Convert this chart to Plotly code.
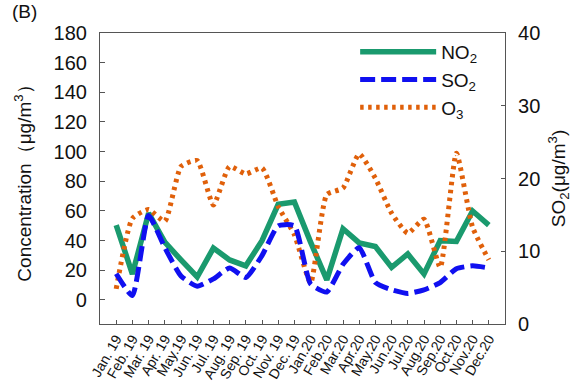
import plotly.graph_objects as go

months = ["Jan. 19", "Feb. 19", "Mar. 19", "Apr. 19", "May.19", "Jun. 19", "Jul. 19", "Aug. 19",
          "Sep. 19", "Oct. 19", "Nov. 19", "Dec. 19", "Jan.20", "Feb.20", "Mar.20", "Apr.20",
          "May.20", "Jun.20", "Jul.20", "Aug.20", "Sep.20", "Oct.20", "Nov.20", "Dec.20"]

no2 = [50.5, 17.5, 58.5, 39, 27, 15.5, 35, 27, 23, 40, 64.5, 66,
       39, 13.5, 48, 38.5, 36, 22, 31, 17.5, 40, 39.5, 60, 50.5]

so2 = [6.9, 3.9, 14.9, 10.5, 6.6, 5.2, 6.2, 7.7, 6.4, 9.4, 13.5, 13.5,
       5.5, 4.4, 8.2, 10.5, 5.7, 4.7, 4.2, 4.7, 5.7, 7.6, 8.0, 7.7]

o3 = [7.5, 55, 61, 53, 90, 94, 64, 90, 85, 89, 63, 44,
      11.5, 71, 75.5, 98.5, 82, 58.5, 45, 54.5, 22, 99, 49, 27]

left_ticks = [0, 20, 40, 60, 80, 100, 120, 140, 160, 180]
right_ticks = [0, 10, 20, 30, 40]

FONT = "Arial, Liberation Sans, sans-serif"
GREEN = "#1a9a6e"
BLUE = "#1010f0"
ORANGE = "#e0600a"

fig = go.Figure()
fig.add_trace(go.Scatter(x=months, y=no2, name="NO<sub>2</sub>", mode="lines",
                         line=dict(color=GREEN, width=5.5)))
fig.add_trace(go.Scatter(x=months, y=so2, name="SO<sub>2</sub>", mode="lines", yaxis="y2",
                         line=dict(color=BLUE, width=5, dash="15px,6px", shape="spline", smoothing=0.5)))
fig.add_trace(go.Scatter(x=months, y=o3, name="O<sub>3</sub>", mode="lines",
                         line=dict(color=ORANGE, width=5, dash="3.5px,4.5px", shape="spline", smoothing=0.5)))

fig.update_layout(
    width=573, height=383,
    margin=dict(l=100, r=68, t=33, b=59),
    paper_bgcolor="white", plot_bgcolor="white",
    font=dict(family=FONT, color="#111"),
    showlegend=True,
    legend=dict(x=0.63, y=1.0, xanchor="left", yanchor="top", bgcolor="rgba(0,0,0,0)",
                font=dict(size=19, family=FONT), itemwidth=76),
    xaxis=dict(type="category", range=[-1, 24], tickangle=-60, tickfont=dict(size=14),
               tickmode="linear", tick0=0, dtick=1,
               showline=True, linecolor="#555", linewidth=1.2, mirror=True,
               ticks="inside", ticklen=4, tickcolor="#555", showgrid=False, zeroline=False,
               automargin=False),
    yaxis=dict(range=[-16.2, 180], tickvals=left_ticks, tickfont=dict(size=20),
               showline=True, linecolor="#555", linewidth=1.2, ticklabelstandoff=8,
               ticks="inside", ticklen=5, tickcolor="#555", showgrid=False, zeroline=False,
               title=dict(text="Concentration（μg/m<sup>3</sup>）", font=dict(size=19), standoff=16),
               automargin=False),
    yaxis2=dict(range=[0, 40], tickvals=right_ticks, tickfont=dict(size=20), overlaying="y",
                side="right", showline=True, linecolor="#555", linewidth=1.2, ticklabelstandoff=8,
                ticks="inside", ticklen=4, tickcolor="#555", showgrid=False, zeroline=False,
                title=dict(text="SO<sub>2</sub>(μg/m<sup>3</sup>)", font=dict(size=19), standoff=12),
                automargin=False),
    annotations=[dict(text="(B)", x=-0.222, y=1.075, xref="paper", yref="paper", showarrow=False,
                      xanchor="left", yanchor="middle", font=dict(size=19))],
)

fig.write_html("out.html")
